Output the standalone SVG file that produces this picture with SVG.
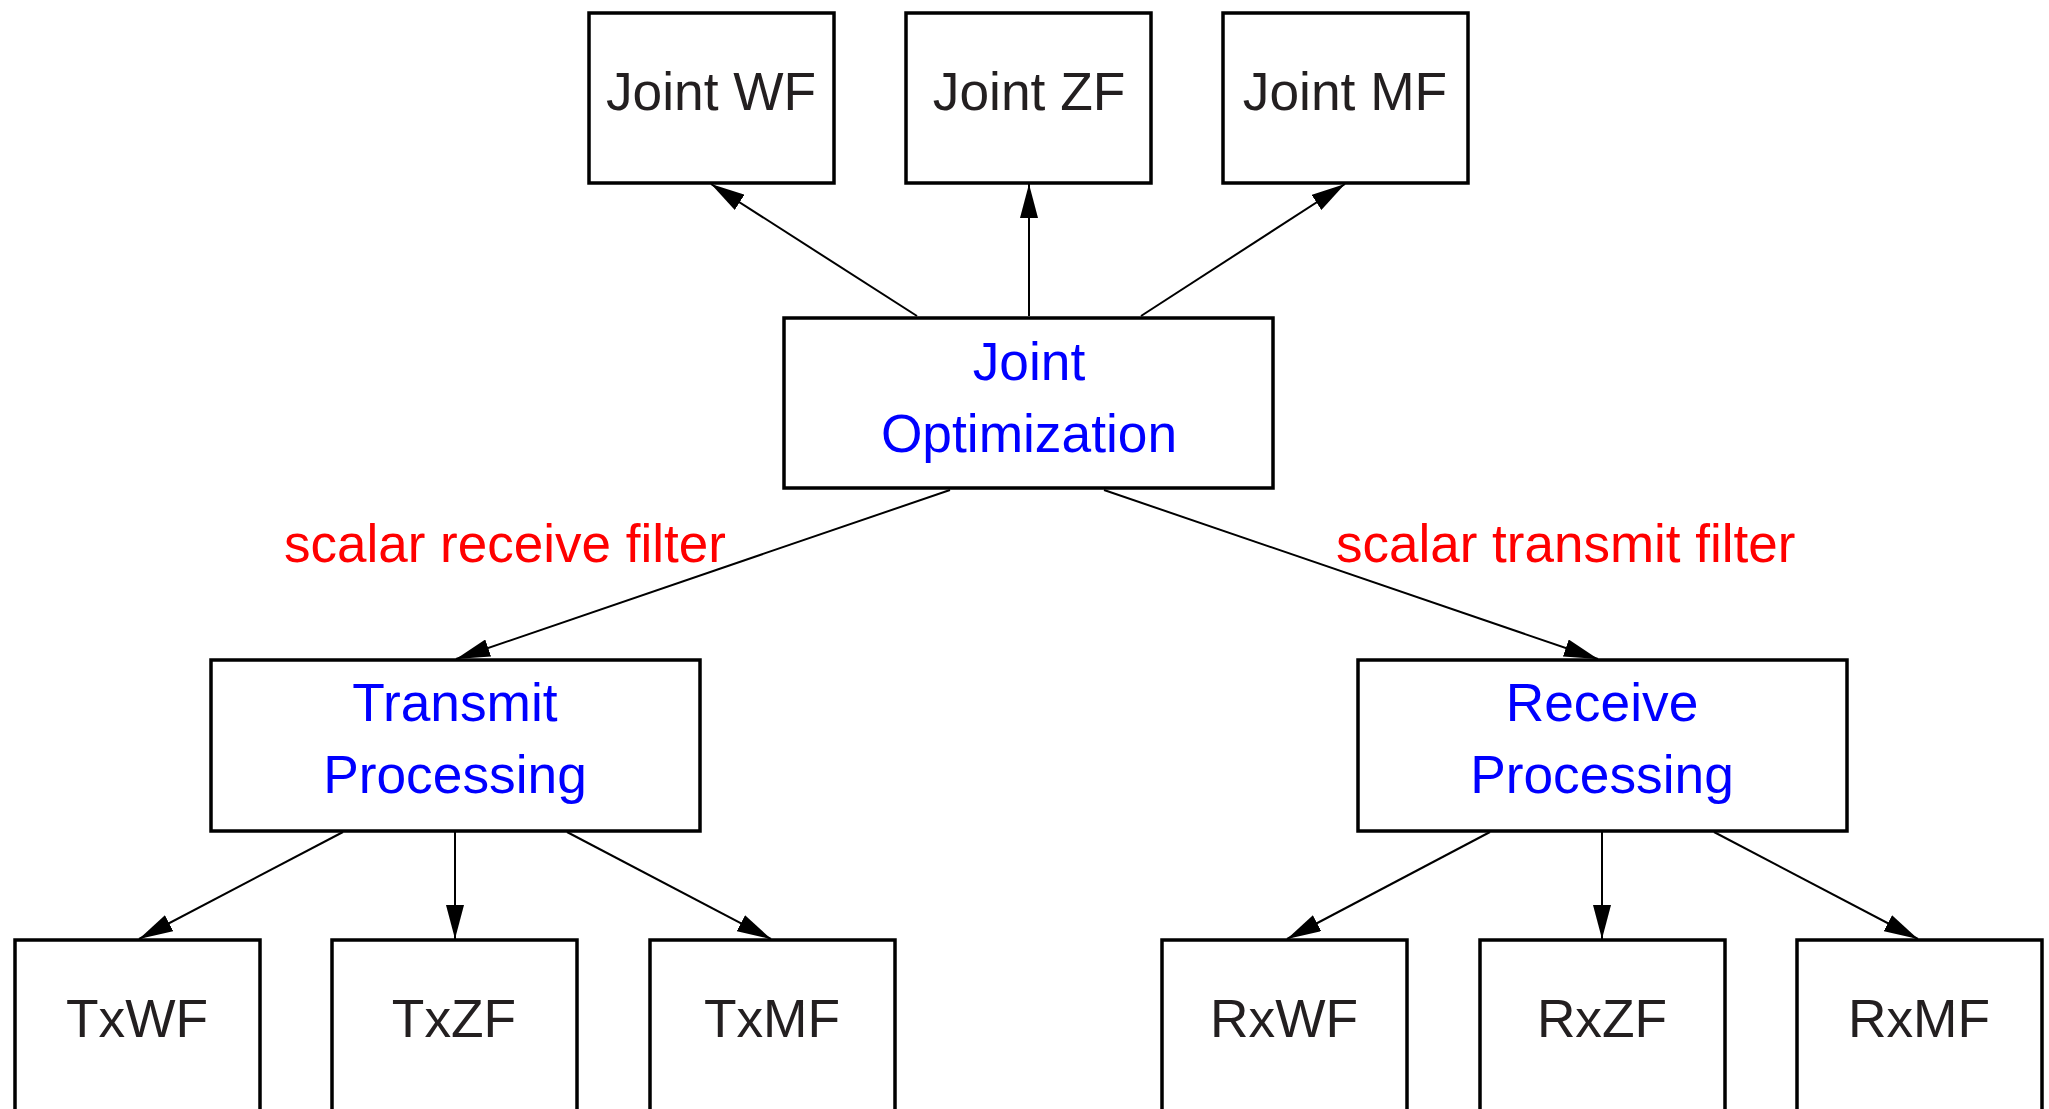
<svg xmlns="http://www.w3.org/2000/svg" width="2049" height="1109" viewBox="0 0 2049 1109">
<defs>
<marker id="arr" viewBox="0 0 34 18" refX="34" refY="9" markerWidth="34" markerHeight="18" orient="auto" markerUnits="userSpaceOnUse">
<path d="M0,0 L34,9 L0,18 Z" fill="#000"/>
</marker>
<style>
.box{fill:#fff;stroke:#000;stroke-width:3.5}
.t{font-family:"Liberation Sans",Arial,sans-serif;font-size:53.3px;text-anchor:middle;fill:#231f20}
.b{fill:#0000ff}
.lbl{font-family:"Liberation Sans",Arial,sans-serif;font-size:53px;fill:#ff0000}
.e{stroke:#000;stroke-width:2;fill:none;marker-end:url(#arr)}
</style>
</defs>
<rect width="2049" height="1109" fill="#fff"/>
<g id="edges">
<line class="e" x1="917" y1="316" x2="711" y2="184"/>
<line class="e" x1="1029" y1="316" x2="1029" y2="184"/>
<line class="e" x1="1141" y1="316" x2="1345" y2="184"/>
<line class="e" x1="950" y1="490" x2="456" y2="659"/>
<line class="e" x1="1104" y1="490" x2="1598" y2="659"/>
<line class="e" x1="343" y1="832" x2="139" y2="939"/>
<line class="e" x1="455" y1="832" x2="455" y2="939"/>
<line class="e" x1="567" y1="832" x2="771" y2="939"/>
<line class="e" x1="1490" y1="832" x2="1287" y2="939"/>
<line class="e" x1="1602" y1="832" x2="1602" y2="939"/>
<line class="e" x1="1714" y1="832" x2="1918" y2="939"/>
<text class="lbl" x="284" y="562">scalar receive filter</text>
<text class="lbl" x="1336" y="562">scalar transmit filter</text>
</g>
<g id="jointWF"><rect class="box" x="589" y="13" width="245" height="170"/><text class="t" x="711" y="110">Joint WF</text></g>
<g id="jointZF"><rect class="box" x="906" y="13" width="245" height="170"/><text class="t" x="1029" y="110">Joint ZF</text></g>
<g id="jointMF"><rect class="box" x="1223" y="13" width="245" height="170"/><text class="t" x="1345" y="110">Joint MF</text></g>
<g id="jointOpt"><rect class="box" x="784" y="318" width="489" height="170"/><text class="t b" x="1029" y="380">Joint</text><text class="t b" x="1029" y="452">Optimization</text></g>
<g id="txProc"><rect class="box" x="211" y="660" width="489" height="171"/><text class="t b" x="455" y="721">Transmit</text><text class="t b" x="455" y="793">Processing</text></g>
<g id="rxProc"><rect class="box" x="1358" y="660" width="489" height="171"/><text class="t b" x="1602" y="721">Receive</text><text class="t b" x="1602" y="793">Processing</text></g>
<g id="txWF"><rect class="box" x="15" y="940" width="245" height="180"/><text class="t" x="137" y="1037">TxWF</text></g>
<g id="txZF"><rect class="box" x="332" y="940" width="245" height="180"/><text class="t" x="454" y="1037">TxZF</text></g>
<g id="txMF"><rect class="box" x="650" y="940" width="245" height="180"/><text class="t" x="772" y="1037">TxMF</text></g>
<g id="rxWF"><rect class="box" x="1162" y="940" width="245" height="180"/><text class="t" x="1284" y="1037">RxWF</text></g>
<g id="rxZF"><rect class="box" x="1480" y="940" width="245" height="180"/><text class="t" x="1602" y="1037">RxZF</text></g>
<g id="rxMF"><rect class="box" x="1797" y="940" width="245" height="180"/><text class="t" x="1919" y="1037">RxMF</text></g>
</svg>
